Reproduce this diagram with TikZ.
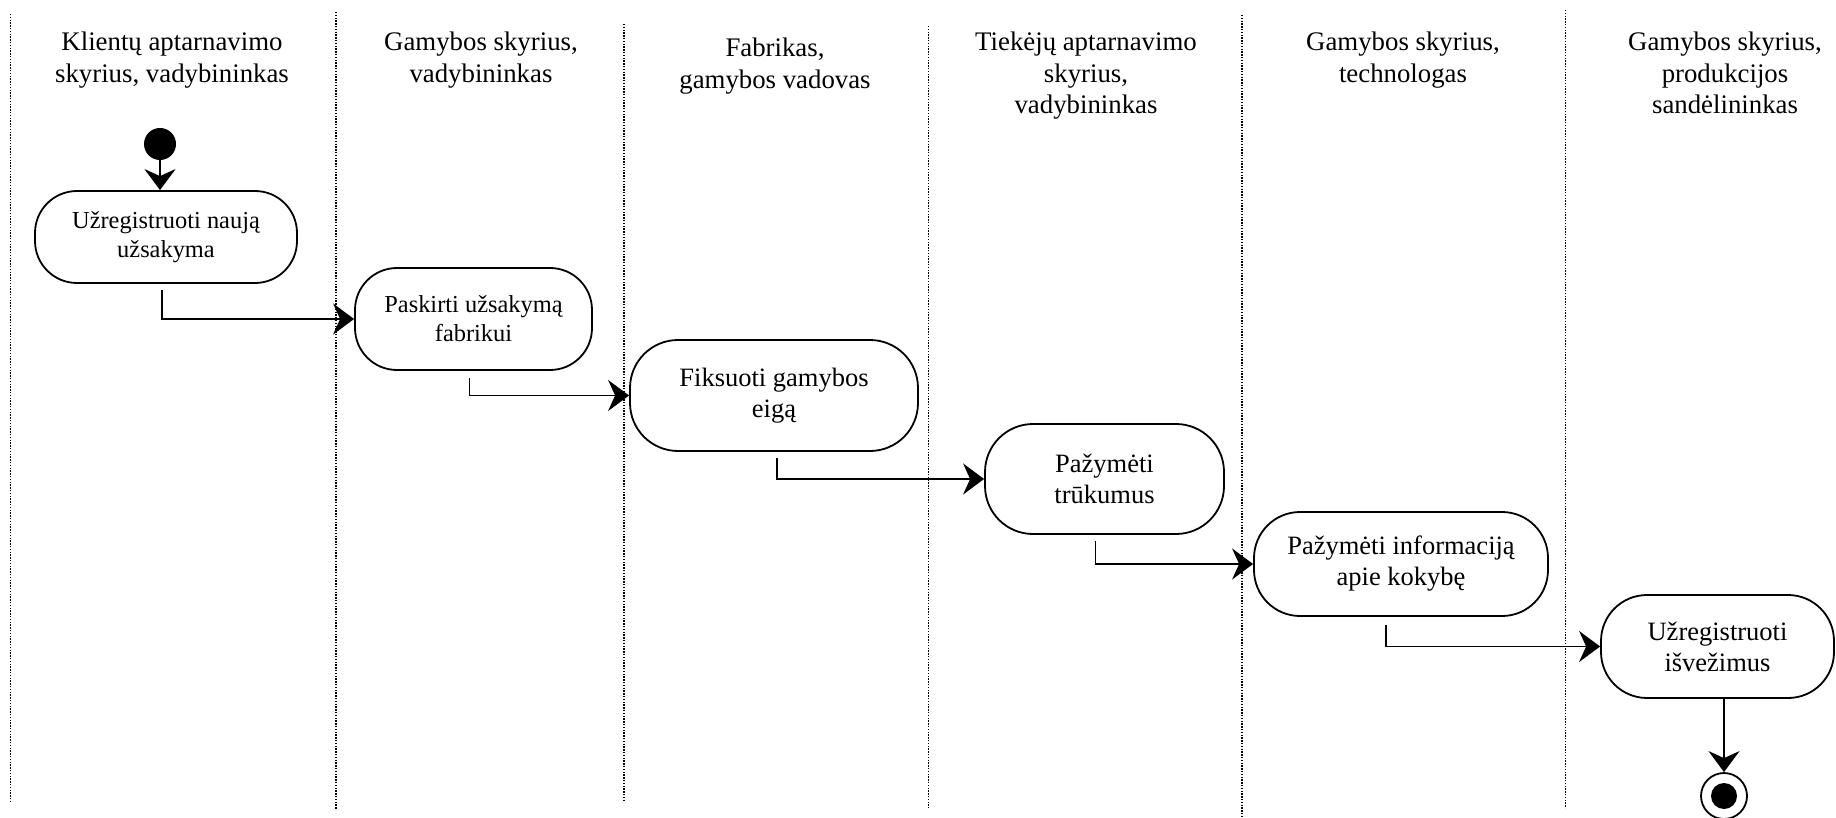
\documentclass[tikz,border=0pt]{standalone}
\usepackage{fontspec}
\setmainfont{Liberation Serif}
\usetikzlibrary{arrows.meta}
\begin{document}
\begin{tikzpicture}[x=1pt,y=-1pt,
  lane/.style={line width=1.3pt, dash pattern=on 1.4pt off 1.4pt},
  lanehead/.style={anchor=north, align=center, inner sep=0pt,
    font=\fontsize{26.8}{31.6}\selectfont},
  activity/.style={draw, line width=1.8pt, rounded corners=42pt,
    align=center, inner sep=0pt},
  bigtext/.style={font=\fontsize{26.5}{31}\selectfont},
  smalltext/.style={font=\fontsize{24.4}{29}\selectfont},
  flow/.style={line width=1.8pt, -{Stealth[length=21pt,width=31pt,inset=7pt]}},
]
\useasboundingbox (0,0) rectangle (1836,818);

% swimlane separators
\draw[lane] (10.5,14) -- (10.5,803);
\draw[lane] (336,12) -- (336,810);
\draw[lane] (624,24) -- (624,801);
\draw[lane] (928.5,26) -- (928.5,808);
\draw[lane] (1242,15) -- (1242,816);
\draw[lane] (1565.5,10) -- (1565.5,808);

% lane titles
\node[lanehead] (h1) at (172,32) {Klientų aptarnavimo\\skyrius, vadybininkas};
\node[lanehead] (h2) at (481,32) {Gamybos skyrius,\\vadybininkas};
\node[lanehead] (h3) at (775,38) {Fabrikas,\\gamybos vadovas};
\node[lanehead] (h4) at (1086,32) {Tiekėjų aptarnavimo\\skyrius,\\vadybininkas};
\node[lanehead] (h5) at (1403,32) {Gamybos skyrius,\\technologas};
\node[lanehead] (h6) at (1725,32) {Gamybos skyrius,\\produkcijos\\sandėlininkas};

% initial node
\node[circle, fill, inner sep=0pt, minimum size=32pt] (start) at (160,144) {};

% activities
\node[activity, smalltext, minimum width=262pt, minimum height=92pt] (n1) at (166,237)
  {Užregistruoti naują\\užsakyma};
\node[activity, smalltext, minimum width=237pt, minimum height=102pt] (n2) at (473.5,319)
  {Paskirti užsakymą\\fabrikui};
\node[activity, bigtext, rounded corners=48pt, minimum width=288pt, minimum height=111pt] (n3) at (774,395.5)
  {Fiksuoti gamybos\\eigą};
\node[activity, bigtext, rounded corners=48pt, minimum width=239pt, minimum height=110pt] (n4) at (1104.5,479)
  {Pažymėti\\trūkumus};
\node[activity, bigtext, rounded corners=46pt, minimum width=294pt, minimum height=104pt] (n5) at (1401,564)
  {Pažymėti informaciją\\apie kokybę};
\node[activity, bigtext, rounded corners=46pt, minimum width=233pt, minimum height=103pt] (n6) at (1717.5,646.5)
  {Užregistruoti\\išvežimus};

% final node
\node[circle, draw, line width=1.8pt, inner sep=0pt, minimum size=46pt] (end) at (1724,796) {};
\fill (end.center) circle (13pt);

% control flow
\draw[flow] (start) -- (n1.north -| start);
\draw[flow] ([xshift=-4pt,yshift=-6pt]n1.south) |- (n2.west);
\draw[flow] ([xshift=-4pt,yshift=-7pt]n2.south) |- (n3.west);
\draw[flow] ([xshift=3pt,yshift=-6pt]n3.south) |- (n4.west);
\draw[flow] ([xshift=-9pt,yshift=-6pt]n4.south) |- (n5.west);
\draw[flow] ([xshift=-15pt,yshift=-8pt]n5.south) |- (n6.west);
\draw[flow, line width=1.4pt] (n6.south -| end.north) -- (end.north);
\end{tikzpicture}
\end{document}
